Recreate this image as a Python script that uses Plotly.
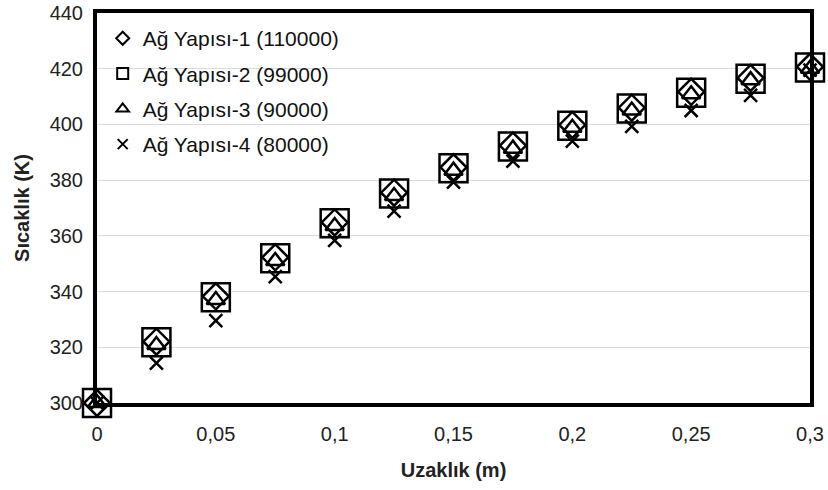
import plotly.graph_objects as go

x_vals = [0, 0.025, 0.05, 0.075, 0.1, 0.125, 0.15, 0.175, 0.2, 0.225, 0.25, 0.275, 0.3]
ag1 = [300, 322.0, 338.3, 352.3, 364.8, 375.5, 384.6, 392.4, 399.8, 406.0, 411.7, 416.7, 420.7]
ag2 = [300, 321.8, 338.0, 352.0, 364.5, 375.2, 384.3, 392.1, 399.5, 405.7, 411.4, 416.4, 420.4]
ag3 = [300, 320.8, 337.0, 351.0, 363.5, 374.3, 383.4, 391.3, 398.8, 405.0, 410.8, 415.9, 420.0]
ag4 = [300, 314.3, 329.6, 345.4, 358.4, 368.9, 379.3, 386.8, 394.0, 399.3, 405.0, 410.4, 419.5]

names = ["Ağ Yapısı-1 (110000)", "Ağ Yapısı-2 (99000)", "Ağ Yapısı-3 (90000)", "Ağ Yapısı-4 (80000)"]
series = [ag1, ag2, ag3, ag4]

x_tickvals = [0, 0.05, 0.1, 0.15, 0.2, 0.25, 0.3]
x_ticktext = ["0", "0,05", "0,1", "0,15", "0,2", "0,25", "0,3"]
y_tickvals = [300, 320, 340, 360, 380, 400, 420, 440]

symbols = ["diamond-open", "square-open", "triangle-up-open", "x-thin-open"]
plot_sizes = [20, 28, 16, 13]
legend_sizes = [10, 11, 11, 10]

fig = go.Figure()
for i in range(4):
    fig.add_trace(go.Scatter(
        x=x_vals, y=series[i], mode="markers", name=names[i], showlegend=False,
        cliponaxis=False,
        marker=dict(symbol=symbols[i], size=plot_sizes[i], color="black",
                    line=dict(color="black", width=2.5)),
    ))
for i in range(4):
    fig.add_trace(go.Scatter(
        x=[None], y=[None], mode="markers", name=names[i], showlegend=True,
        legendgroup=f"g{i}",
        marker=dict(symbol=symbols[i], size=legend_sizes[i], color="black",
                    line=dict(color="black", width=2)),
    ))

fig.update_layout(
    width=828, height=490,
    margin=dict(l=97, r=18, t=13, b=87, autoexpand=False),
    paper_bgcolor="white", plot_bgcolor="white",
    font=dict(family="Liberation Sans, Arial, sans-serif", size=20, color="#222"),
    legend=dict(x=0.008, y=0.987, xanchor="left", yanchor="top",
                bgcolor="rgba(255,255,255,0)", font=dict(size=21, color="#111"),
                tracegroupgap=5, itemwidth=30),
    xaxis=dict(range=[0, 0.3], tickvals=x_tickvals, ticktext=x_ticktext,
               showgrid=False, zeroline=False, showline=True, linecolor="black",
               linewidth=4, mirror=True, ticks="", ticklabelstandoff=10, automargin=False,
               ticklabeloverflow="allow", tickfont=dict(size=20),
               title=dict(text="<b>Uzaklık (m)</b>", font=dict(size=20, color="#222"), standoff=20)),
    yaxis=dict(range=[300, 440], tickvals=y_tickvals,
               showgrid=True, gridcolor="#dcdcdc", gridwidth=1, zeroline=False,
               showline=True, linecolor="black", linewidth=4, mirror=True, ticks="",
               ticklabelstandoff=6, automargin=False, ticklabeloverflow="allow",
               tickfont=dict(size=20),
               title=dict(text="<b>Sıcaklık (K)</b>", font=dict(size=20, color="#222"), standoff=16)),
)

fig.write_html("out.html", config={"displayModeBar": False},
               post_script="document.body.style.margin='0';document.body.style.overflow='hidden';")
